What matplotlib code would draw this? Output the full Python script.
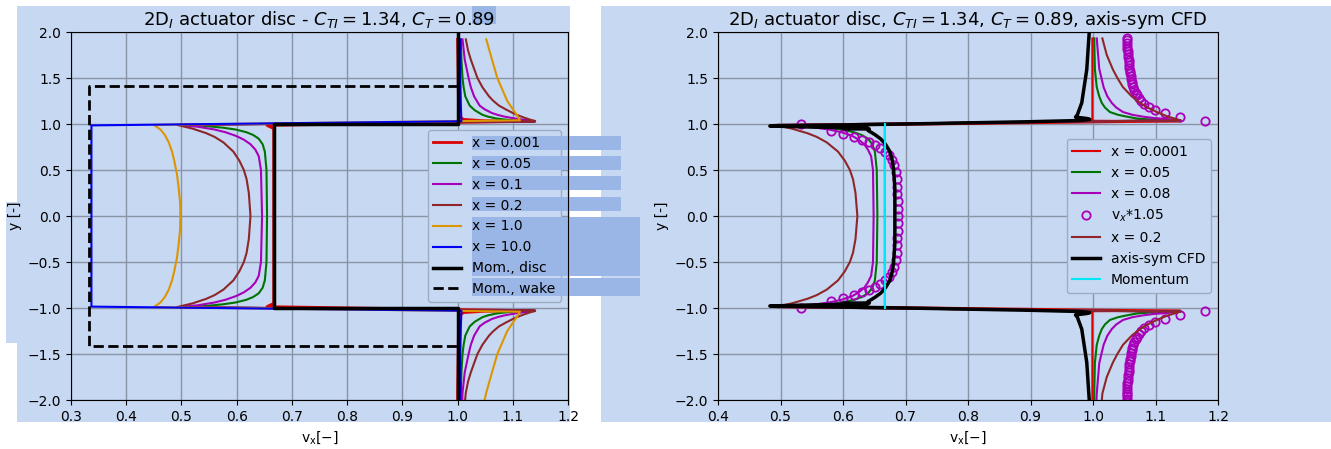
import numpy as np
import matplotlib
matplotlib.use('Agg')
from matplotlib import pyplot as plt
from matplotlib.patches import Rectangle
from matplotlib.colors import to_rgb

# ---------------- left panel: 2D_I actuator disc (upper half, y >= 0) ----------------
# inner part = inside the wake, outer part = outside the wake edge
red_in_y = [0.0, 0.5, 0.95, 0.97, 0.985]
red_in_vx = [0.667, 0.667, 0.667, 0.660, 0.655]
red_out_y = [1.03, 1.035, 1.05, 1.1, 1.5, 1.92, 2.1]
red_out_vx = [1.14, 1.05, 1.01, 1.002, 1.001, 1.0, 1.0]

green_in_y = [0.0, 0.5, 0.7, 0.78, 0.84, 0.88, 0.91, 0.94, 0.96, 0.98, 0.99]
green_in_vx = [0.655, 0.654, 0.651, 0.647, 0.640, 0.630, 0.618, 0.598, 0.575, 0.540, 0.497]
green_out_y = [1.03, 1.035, 1.04, 1.05, 1.06, 1.08, 1.1, 1.15, 1.2, 1.3, 1.4, 1.5, 1.7, 1.92, 2.1]
green_out_vx = [1.14, 1.12, 1.10, 1.083, 1.07, 1.055, 1.045, 1.031, 1.022, 1.014, 1.011, 1.009, 1.007,
                1.006, 1.005]

mag_in_y = [0.0, 0.5, 0.65, 0.72, 0.78, 0.83, 0.87, 0.91, 0.94, 0.97, 0.99]
mag_in_vx = [0.646, 0.644, 0.640, 0.634, 0.625, 0.613, 0.599, 0.580, 0.560, 0.530, 0.497]
mag_out_y = [1.03, 1.04, 1.05, 1.065, 1.08, 1.1, 1.12, 1.16, 1.2, 1.3, 1.4, 1.5, 1.7, 1.92, 2.1]
mag_out_vx = [1.14, 1.127, 1.115, 1.099, 1.085, 1.072, 1.062, 1.049, 1.040, 1.030, 1.024, 1.020, 1.013,
              1.009, 1.008]

brown_in_y = [0.0, 0.25, 0.4, 0.5, 0.6, 0.7, 0.8, 0.86, 0.9, 0.95, 0.99]
brown_in_vx = [0.625, 0.622, 0.618, 0.613, 0.605, 0.594, 0.576, 0.560, 0.545, 0.520, 0.492]
brown_out_y = [1.03, 1.05, 1.07, 1.1, 1.12, 1.16, 1.2, 1.25, 1.3, 1.4, 1.5, 1.6, 1.7, 1.8, 1.92, 2.1]
brown_out_vx = [1.14, 1.13, 1.12, 1.107, 1.10, 1.087, 1.075, 1.065, 1.057, 1.045, 1.036, 1.030, 1.024,
                1.019, 1.015, 1.012]

orange_in_y = [0.0, 0.15, 0.3, 0.45, 0.6, 0.7, 0.8, 0.88, 0.94, 0.99]
orange_in_vx = [0.498, 0.4975, 0.495, 0.492, 0.487, 0.483, 0.477, 0.470, 0.462, 0.450]
orange_out_y = [1.04, 1.1, 1.25, 1.5, 1.75, 1.92, 2.1]
orange_out_vx = [1.113, 1.107, 1.090, 1.072, 1.060, 1.052, 1.045]

blue_in_y = [0.0, 0.5, 0.985]
blue_in_vx = [0.337, 0.337, 0.337]
blue_out_y = [1.03, 1.2, 1.5, 1.92, 2.1]
blue_out_vx = [1.007, 1.006, 1.005, 1.005, 1.005]

# momentum theory: disc and far wake
mom_disc_vx = [1.0, 1.0, 0.667, 0.667, 1.0, 1.0]
mom_disc_y = [2.1, 1.0, 1.0, -1.0, -1.0, -2.1]
mom_wake_vx = [1.0, 0.333, 0.333, 1.0]
mom_wake_y = [1.414, 1.414, -1.414, -1.414]

# ---------------- right panel: comparison with axis-symmetric CFD ----------------
r_red_in_y = [0.0, 0.5, 0.99]
r_red_in_vx = [0.667, 0.667, 0.667]
r_red_out_y = [1.03, 1.035, 1.05, 1.5, 1.93, 2.1]
r_red_out_vx = [1.14, 1.0, 0.999, 0.999, 0.999, 0.999]

r_green_in_y = [0.0, 0.5, 0.7, 0.78, 0.84, 0.88, 0.91, 0.94, 0.96, 0.98, 0.99]
r_green_in_vx = [0.655, 0.654, 0.651, 0.647, 0.640, 0.630, 0.618, 0.598, 0.575, 0.540, 0.495]
r_green_out_y = [1.04, 1.045, 1.05, 1.06, 1.08, 1.1, 1.13, 1.18, 1.23, 1.3, 1.4, 1.6, 1.93, 2.1]
r_green_out_vx = [1.14, 1.11, 1.09, 1.07, 1.054, 1.04, 1.027, 1.019, 1.014, 1.010, 1.006, 1.003, 1.002,
                  1.002]

r_mag_in_y = [0.0, 0.5, 0.65, 0.72, 0.78, 0.83, 0.87, 0.91, 0.94, 0.97, 0.99]
r_mag_in_vx = [0.649, 0.648, 0.645, 0.640, 0.634, 0.625, 0.615, 0.598, 0.578, 0.545, 0.495]
r_mag_out_y = [1.04, 1.055, 1.065, 1.08, 1.1, 1.13, 1.18, 1.23, 1.3, 1.4, 1.6, 1.93, 2.1]
r_mag_out_vx = [1.14, 1.117, 1.097, 1.08, 1.063, 1.048, 1.037, 1.030, 1.023, 1.017, 1.010, 1.006, 1.005]

r_brown_in_y = [0.0, 0.25, 0.4, 0.5, 0.6, 0.7, 0.8, 0.86, 0.9, 0.95, 0.99]
r_brown_in_vx = [0.623, 0.620, 0.616, 0.611, 0.603, 0.592, 0.574, 0.558, 0.543, 0.518, 0.490]
r_brown_out_y = [1.04, 1.08, 1.13, 1.18, 1.23, 1.3, 1.4, 1.5, 1.59, 1.75, 1.93, 2.1]
r_brown_out_vx = [1.14, 1.12, 1.102, 1.087, 1.075, 1.062, 1.048, 1.039, 1.032, 1.022, 1.015, 1.013]

# CFD profile, upper half traced from the centre outwards
cfd_y = [0.0, 0.3, 0.5, 0.6, 0.7, 0.78, 0.84, 0.88, 0.91, 0.93, 0.945, 0.95, 0.955,
         0.965, 0.978, 1.0, 1.025, 1.038, 1.05, 1.06, 1.075, 1.1, 1.23, 1.59, 2.0, 2.1]
cfd_vx = [0.683, 0.683, 0.681, 0.679, 0.675, 0.668, 0.660, 0.652, 0.645, 0.640, 0.642, 0.600, 0.640,
          0.560, 0.483, 0.700, 0.900, 0.980, 0.995, 0.990, 0.972, 0.975, 0.982, 0.990, 0.994, 0.995]

# CFD * 1.05 (circles), upper half
circ_in_y = [0.0, 0.08, 0.16, 0.24, 0.32, 0.40, 0.48, 0.55, 0.61, 0.66, 0.70, 0.74, 0.77,
             0.80, 0.83, 0.86, 0.89, 0.92, 1.0]
circ_in_vx = [0.688, 0.688, 0.688, 0.687, 0.687, 0.686, 0.684, 0.682, 0.678, 0.673, 0.667, 0.659, 0.651,
              0.641, 0.630, 0.617, 0.600, 0.580, 0.533]
circ_out_y = [1.036, 1.075, 1.119, 1.155, 1.19, 1.22, 1.25, 1.28, 1.31, 1.34, 1.37, 1.40, 1.43,
              1.46, 1.49, 1.52, 1.55, 1.58, 1.61, 1.64, 1.67, 1.70, 1.73, 1.76, 1.79, 1.82,
              1.85, 1.88, 1.91, 1.93, 1.96, 1.99, 2.02]
circ_out_vx = [1.179, 1.139, 1.115, 1.099, 1.089, 1.082, 1.077, 1.073, 1.070, 1.068, 1.066, 1.064, 1.063,
               1.062, 1.061, 1.060, 1.059, 1.059, 1.058, 1.058, 1.057, 1.057, 1.056, 1.056, 1.056, 1.055,
               1.055, 1.055, 1.055, 1.054, 1.054, 1.054, 1.054]

mom_vx = [0.667, 0.667]
mom_y = [-1.0, 1.0]

# ---------------- look of the screenshot ----------------
W, H = 1331, 449
BG = '#c6d8f2'       # light blue selection overlay
HL = '#9ab6e6'       # darker selection highlight


def tint(c, k=1.0):
    # colours seen through the blue overlay (multiply, k = strength)
    return tuple(a * (1 - k + k * b) for a, b in zip(to_rgb(c), to_rgb(BG)))


def fig_rect(x0, y0, x1, y1, color, z):
    return Rectangle((x0 / W, 1 - y1 / H), (x1 - x0) / W, (y1 - y0) / H,
                     transform=fig.transFigure, facecolor=color, edgecolor='none',
                     zorder=z, clip_on=False)


def full_profile(y_in, vx_in, y_out, vx_out, y_top=1.935):
    y_in, vx_in = np.array(y_in), np.array(vx_in)
    y_out, vx_out = np.array(y_out), np.array(vx_out)
    top = y_out <= y_top
    y = np.concatenate([-y_out[::-1], -y_in[::-1], y_in[1:], y_out[top]])
    vx = np.concatenate([vx_out[::-1], vx_in[::-1], vx_in[1:], vx_out[top]])
    return vx, y


def mirrored_path(y, vx):
    y, vx = np.array(y), np.array(vx)
    return np.concatenate([vx[::-1], vx[1:]]), np.concatenate([-y[::-1], y[1:]])


def style_axes(ax, xlim, title):
    ax.set_facecolor('none')
    ax.set_xlim(xlim)
    ax.set_ylim(-2.0, 2.0)
    ax.grid(True, color=tint('#b0b0b0'), linewidth=1.0)
    ax.set_xlabel(r'$\mathrm{v_x[-]}$')
    ax.set_ylabel('y [-]')
    ax.set_title(title, fontsize=13, pad=5)
    for s in ax.spines.values():
        s.set_zorder(7)


fig = plt.figure(figsize=(W / 100, H / 100), dpi=100)
fig.patch.set_facecolor('white')

# blue panels behind the axes
fig.add_artist(fig_rect(17, 6, 570, 422, BG, -2))
fig.add_artist(fig_rect(6, 202, 17, 343, BG, -2))
fig.add_artist(fig_rect(601, 6, 1331, 422, BG, -2))
fig.add_artist(fig_rect(472, 6, 496, 24, HL, -1))

ax1 = fig.add_axes([71 / W, 1 - 400 / H, 497 / W, 368 / H])
ax2 = fig.add_axes([718 / W, 1 - 400 / H, 500 / W, 368 / H])

# ---------------- left panel ----------------
left_series = [
    ('x = 0.001', 'r', red_in_y, red_in_vx, red_out_y, red_out_vx),
    ('x = 0.05', 'g', green_in_y, green_in_vx, green_out_y, green_out_vx),
    ('x = 0.1', 'm', mag_in_y, mag_in_vx, mag_out_y, mag_out_vx),
    ('x = 0.2', 'brown', brown_in_y, brown_in_vx, brown_out_y, brown_out_vx),
    ('x = 1.0', 'orange', orange_in_y, orange_in_vx, orange_out_y, orange_out_vx),
    ('x = 10.0', 'b', blue_in_y, blue_in_vx, blue_out_y, blue_out_vx),
]
for label, c, yi, vi, yo, vo in left_series:
    vx, y = full_profile(yi, vi, yo, vo)
    lw = 2.0 if c == 'r' else 1.5
    ax1.plot(vx, y, color=tint(c, 0.6), lw=lw, label=label)

ax1.plot(mom_disc_vx, mom_disc_y, color='k', lw=2.5, label='Mom., disc')
ax1.plot(mom_wake_vx, mom_wake_y, color='k', lw=2.0, ls='--', label='Mom., wake')

style_axes(ax1, (0.3, 1.2), r'2D$_I$ actuator disc - $C_{TI} = 1.34$, $C_T = 0.89$')
ax1.set_xticks(np.arange(0.3, 1.21, 0.1))

# legend frame, then highlight bars, then legend text on top
leg_back = ax1.legend(loc='center right', facecolor=BG, edgecolor=tint('0.8'), framealpha=1)
for t in leg_back.get_texts():
    t.set_color('none')
for h in leg_back.legend_handles:
    h.set_visible(False)
leg_back.set_zorder(5)
ax1.add_artist(leg_back)

for x0, y0, x1, y1 in [(472, 136, 621, 150), (472, 156, 621, 170), (472, 176, 621, 190),
                       (472, 197, 621, 211), (472, 217, 640, 276), (472, 278, 640, 296)]:
    r = fig_rect(x0, y0, x1, y1, HL, 5.5)
    ax1.add_artist(r)

leg_front = ax1.legend(loc='center right', frameon=False)
leg_front.set_zorder(6)

# ---------------- right panel ----------------
right_series = [
    ('x = 0.0001', 'r', r_red_in_y, r_red_in_vx, r_red_out_y, r_red_out_vx),
    ('x = 0.05', 'g', r_green_in_y, r_green_in_vx, r_green_out_y, r_green_out_vx),
    ('x = 0.08', 'm', r_mag_in_y, r_mag_in_vx, r_mag_out_y, r_mag_out_vx),
]
for label, c, yi, vi, yo, vo in right_series:
    vx, y = full_profile(yi, vi, yo, vo)
    ax2.plot(vx, y, color=tint(c, 0.6), lw=1.5, label=label)

cvx, cy = full_profile(circ_in_y, circ_in_vx, circ_out_y, circ_out_vx)
ax2.plot(cvx, cy, ls='none', marker='o', ms=6, mfc='none', mec=tint('m', 0.5), mew=1.3,
         label=r'v$_x$*1.05')

vx, y = full_profile(r_brown_in_y, r_brown_in_vx, r_brown_out_y, r_brown_out_vx)
ax2.plot(vx, y, color=tint('brown', 0.6), lw=1.5, label='x = 0.2')

vx, y = mirrored_path(cfd_y, cfd_vx)
ax2.plot(vx, y, color='k', lw=2.5, label='axis-sym CFD')
ax2.plot(mom_vx, mom_y, color=tint('cyan', 0.6), lw=1.5, label='Momentum')

style_axes(ax2, (0.4, 1.2), r'2D$_I$ actuator disc, $C_{TI} = 1.34$, $C_T = 0.89$, axis-sym CFD')
ax2.legend(loc='center right', facecolor=BG, edgecolor=tint('0.8'), framealpha=1)

fig.savefig('out.png', dpi=100, facecolor=fig.get_facecolor())
